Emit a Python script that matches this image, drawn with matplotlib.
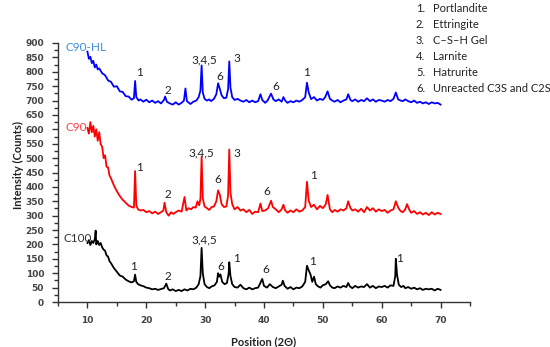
import matplotlib
matplotlib.use("Agg")
import matplotlib.pyplot as plt
from matplotlib.ticker import MultipleLocator

plt.rcParams['font.family'] = ['Lato', 'DejaVu Sans']

# ---------------- data ----------------
hl_x = [10.0, 10.25, 10.5, 10.75, 11.0, 11.25, 11.5, 11.75, 12.0, 12.5, 13.0, 13.5, 14.0, 14.5,
        15.0, 15.5, 16.0, 16.5, 17.0, 17.5, 17.9, 18.1, 18.3, 18.7, 19.0, 19.5, 20.0, 20.5,
        21.0, 21.5, 22.0, 22.5, 23.0, 23.2, 23.5, 24.0, 24.5, 25.0, 25.5, 26.0, 26.4, 26.65,
        26.9, 27.5, 28.0, 28.5, 28.9, 29.2, 29.4, 29.6, 29.9, 30.3, 30.7, 31.0, 31.5, 31.9,
        32.2, 32.5, 32.8, 33.2, 33.6, 33.9, 34.1, 34.3, 34.6, 35.0, 35.5, 36.0, 36.5, 37.0,
        37.5, 38.0, 38.5, 39.0, 39.4, 39.7, 40.2, 40.6, 41.2, 41.6, 42.0, 42.5, 43.0, 43.3,
        43.6, 44.0, 44.5, 45.0, 45.5, 46.0, 46.5, 47.0, 47.3, 47.6, 48.0, 48.5, 49.0, 49.5,
        50.0, 50.4, 50.8, 51.2, 51.6, 52.0, 52.5, 53.0, 53.5, 54.0, 54.3, 54.7, 55.0, 55.5,
        56.0, 56.5, 57.0, 57.5, 58.0, 58.5, 59.0, 59.5, 60.0, 60.5, 61.0, 61.5, 62.0, 62.4,
        62.8, 63.2, 63.6, 64.0, 64.5, 65.0, 65.5, 66.0, 66.5, 67.0, 67.5, 68.0, 68.5, 69.0,
        69.5, 70.0]
hl_y = [870, 845, 852, 830, 838, 815, 825, 808, 812, 795, 788, 770, 765, 748,
        750, 732, 730, 715, 714, 703, 708, 768, 712, 700, 704, 696, 703, 694,
        700, 692, 698, 690, 702, 714, 696, 690, 686, 694, 686, 692, 700, 742,
        698, 688, 696, 700, 712, 735, 822, 728, 706, 700, 704, 698, 706, 722,
        760, 740, 718, 708, 710, 740, 836, 745, 712, 702, 706, 700, 696, 702,
        694, 700, 694, 698, 722, 702, 692, 700, 724, 704, 698, 704, 696, 712,
        700, 692, 698, 694, 700, 696, 702, 712, 762, 728, 705, 712, 700, 706,
        702, 712, 732, 706, 700, 696, 702, 694, 700, 704, 722, 702, 698, 704,
        696, 702, 698, 708, 698, 704, 696, 702, 700, 696, 702, 698, 706, 728,
        704, 700, 698, 704, 698, 694, 700, 692, 696, 690, 694, 688, 694, 690,
        692, 686]

c90_x = [10.0, 10.25, 10.5, 10.75, 11.0, 11.25, 11.5, 11.75, 12.0, 12.25, 12.5, 12.75, 13.0,
         13.25, 13.5, 13.75, 14.0, 14.5, 15.0, 15.5, 16.0, 16.5, 17.0, 17.5, 17.9, 18.1, 18.3,
         18.6, 19.0, 19.5, 20.0, 20.5, 21.0, 21.5, 22.0, 22.5, 22.9, 23.1, 23.4, 23.8, 24.2,
         24.6, 25.0, 25.5, 26.0, 26.5, 26.8, 27.2, 27.6, 28.0, 28.4, 28.7, 29.0, 29.2, 29.4,
         29.6, 29.9, 30.3, 30.7, 31.1, 31.5, 31.9, 32.2, 32.5, 32.8, 33.2, 33.6, 33.9, 34.1,
         34.3, 34.6, 35.0, 35.5, 36.0, 36.5, 37.0, 37.5, 38.0, 38.5, 39.0, 39.4, 39.7, 40.2,
         40.7, 41.2, 41.5, 42.0, 42.5, 43.0, 43.3, 43.6, 44.0, 44.5, 45.0, 45.5, 46.0, 46.5,
         47.0, 47.3, 47.6, 48.0, 48.5, 49.0, 49.5, 50.0, 50.5, 50.8, 51.2, 51.6, 52.0, 52.5,
         53.0, 53.5, 54.0, 54.3, 54.7, 55.0, 55.5, 56.0, 56.5, 57.0, 57.5, 58.0, 58.5, 59.0,
         59.5, 60.0, 60.5, 61.0, 61.5, 62.0, 62.4, 62.8, 63.2, 63.6, 64.0, 64.3, 64.7, 65.0,
         65.5, 66.0, 66.5, 67.0, 67.5, 68.0, 68.5, 69.0, 69.5, 70.0]
c90_y = [605, 585, 625, 590, 612, 575, 600, 560, 590, 548, 540, 500, 510,
         470, 468, 440, 430, 405, 385, 368, 355, 345, 335, 330, 328, 455, 335,
         322, 318, 320, 312, 316, 308, 314, 306, 312, 318, 345, 312, 300, 312,
         306, 312, 318, 314, 365, 318, 326, 322, 330, 328, 350, 336, 360, 505,
         360, 332, 326, 320, 330, 332, 350, 388, 372, 340, 330, 332, 370, 530,
         380, 340, 322, 330, 318, 322, 312, 320, 306, 314, 312, 342, 316, 318,
         326, 352, 330, 322, 312, 322, 338, 318, 310, 318, 312, 322, 314, 318,
         330, 418, 352, 330, 338, 322, 334, 326, 340, 372, 322, 312, 320, 314,
         322, 318, 326, 350, 326, 318, 322, 314, 324, 312, 330, 318, 326, 314,
         322, 316, 320, 310, 318, 322, 350, 328, 316, 312, 322, 340, 320, 310,
         316, 306, 312, 304, 310, 302, 312, 304, 310, 306]

c100_x = [10.0, 10.25, 10.5, 10.75, 11.0, 11.25, 11.4, 11.5, 11.75, 12.0, 12.25, 12.5, 12.75,
          13.0, 13.25, 13.5, 13.75, 14.0, 14.5, 15.0, 15.5, 16.0, 16.5, 17.0, 17.5, 17.9,
          18.1, 18.3, 18.6, 19.0, 19.5, 20.0, 20.5, 21.0, 21.5, 22.0, 22.5, 23.0, 23.4, 23.7,
          24.0, 24.5, 25.0, 25.5, 26.0, 26.5, 27.0, 27.5, 28.0, 28.5, 28.9, 29.2, 29.4, 29.6,
          29.9, 30.3, 30.7, 31.1, 31.6, 32.0, 32.2, 32.4, 32.6, 32.9, 33.3, 33.7, 34.0, 34.1,
          34.3, 34.6, 35.0, 35.5, 36.0, 36.5, 37.0, 37.5, 38.0, 38.5, 39.0, 39.5, 39.7, 40.0,
          40.5, 41.0, 41.5, 42.0, 42.5, 43.0, 43.2, 43.5, 44.0, 44.5, 45.0, 45.5, 46.0, 46.5,
          47.0, 47.3, 47.6, 47.9, 48.2, 48.5, 48.8, 49.2, 49.6, 50.0, 50.5, 50.9, 51.2, 51.6,
          52.0, 52.5, 53.0, 53.5, 54.0, 54.3, 54.6, 55.0, 55.5, 56.0, 56.5, 57.0, 57.5, 58.0,
          58.5, 59.0, 59.5, 60.0, 60.5, 61.0, 61.5, 62.0, 62.3, 62.4, 62.6, 62.9, 63.3, 63.7,
          64.0, 64.5, 65.0, 65.5, 66.0, 66.5, 67.0, 67.5, 68.0, 68.5, 69.0, 69.5, 70.0]
c100_y = [205, 215, 198, 212, 205, 218, 248, 200, 212, 198, 205, 190, 182,
          178, 162, 158, 142, 135, 118, 105, 92, 88, 78, 72, 68, 72,
          95, 70, 62, 58, 55, 50, 48, 44, 46, 42, 45, 48, 64, 46,
          40, 44, 38, 42, 38, 44, 40, 46, 44, 50, 62, 90, 188, 100,
          62, 52, 48, 54, 58, 70, 100, 88, 96, 70, 62, 66, 100, 138,
          90, 62, 52, 50, 60, 48, 44, 50, 44, 48, 50, 72, 80, 56,
          50, 62, 52, 48, 54, 60, 74, 56, 46, 52, 44, 50, 48, 54,
          70, 126, 110, 96, 70, 88, 62, 54, 50, 58, 62, 72, 58, 50,
          48, 54, 50, 56, 52, 66, 54, 48, 56, 50, 54, 52, 62, 50,
          56, 48, 54, 52, 56, 50, 58, 56, 90, 150, 95, 60, 52, 56,
          48, 52, 46, 50, 44, 48, 42, 46, 44, 46, 40, 46, 42]

series_names = ["C90-HL", "C90", "C100"]

# peak labels: (text, x, y)
hl_labels = [("1", 18.8, 796), ("2", 23.7, 734), ("3,4,5", 29.8, 841), ("6", 32.5, 785),
             ("3", 35.4, 845), ("6", 42.0, 748), ("1", 47.3, 796)]
c90_labels = [("1", 18.8, 466), ("2", 23.7, 372), ("3,4,5", 29.4, 517), ("6", 32.2, 426),
              ("3", 35.4, 517), ("6", 40.4, 383), ("1", 48.4, 438)]
c100_labels = [("1", 17.8, 123), ("2", 23.7, 88), ("3,4,5", 29.8, 215), ("6", 32.6, 123),
               ("1", 35.4, 152), ("6", 40.3, 114), ("1", 48.2, 140), ("1", 63.1, 152)]

phase_list = ["Portlandite", "Ettringite", "C\u2013S\u2013H Gel", "Larnite", "Hatrurite",
              "Unreacted C3S and C2S"]

x_ticks = [10, 20, 30, 40, 50, 60, 70]
y_ticks = list(range(0, 901, 50))

# ---------------- figure ----------------
fig = plt.figure(figsize=(5.5, 3.47), dpi=100)
ax = fig.add_axes([58/550, 1 - 302/347, (470 - 58)/550, (302 - 43)/347])

ax.plot(hl_x, hl_y, color="#0000ff", lw=1.3)
ax.plot(c90_x, c90_y, color="#ff0000", lw=1.3)
ax.plot(c100_x, c100_y, color="#000000", lw=1.3)

ax.set_xlim(5, 75)
ax.set_ylim(0, 900)

for s in ["top", "right"]:
    ax.spines[s].set_visible(False)
for s in ["left", "bottom"]:
    ax.spines[s].set_color("#333333")
    ax.spines[s].set_linewidth(1.0)

ax.set_xticks(x_ticks)
ax.xaxis.set_minor_locator(MultipleLocator(5))
ax.set_yticks(y_ticks)
ax.yaxis.set_minor_locator(MultipleLocator(25))
ax.tick_params(axis="both", which="major", direction="out", length=4, width=1.0,
               colors="#333333", labelsize=6.5, labelcolor="#444444")
ax.tick_params(axis="both", which="minor", direction="out", length=3, width=1.0,
               colors="#333333")
ax.tick_params(axis="y", pad=6)
ax.tick_params(axis="x", pad=6)
for lab in ax.get_xticklabels() + ax.get_yticklabels():
    lab.set_fontfamily(["DejaVu Sans"])
    lab.set_fontweight("bold")

ax.set_xlabel("Position (2\u0398)", fontsize=8, fontweight="bold", color="#222222",
              labelpad=8)
ax.set_ylabel("Intensity (Counts)", fontsize=8, fontweight="bold", color="#222222",
              labelpad=4)
ax.yaxis.set_label_coords(-0.083, 0.53)

# series names
ax.text(6.2, 883, series_names[0], color="#3d8fe0", fontsize=8.5, va="center", ha="left")
ax.text(6.2, 608, series_names[1], color="#ff4040", fontsize=8.5, va="center", ha="left")
ax.text(5.85, 222, series_names[2], color="#333333", fontsize=8.5, va="center", ha="left")

for lab_set in (hl_labels, c90_labels, c100_labels):
    for t, x, y in lab_set:
        ax.text(x, y, t, fontsize=8.5, color="#222222", ha="center", va="center")

# phase legend
for i, name in enumerate(phase_list):
    ypix = 8 + 16 * i
    fig.text(416/550, 1 - ypix/347, f"{i+1}.", fontsize=8, color="#222222",
             ha="left", va="center")
    fig.text(433/550, 1 - ypix/347, name, fontsize=8, color="#222222",
             ha="left", va="center")

fig.savefig("out.png", dpi=100)
